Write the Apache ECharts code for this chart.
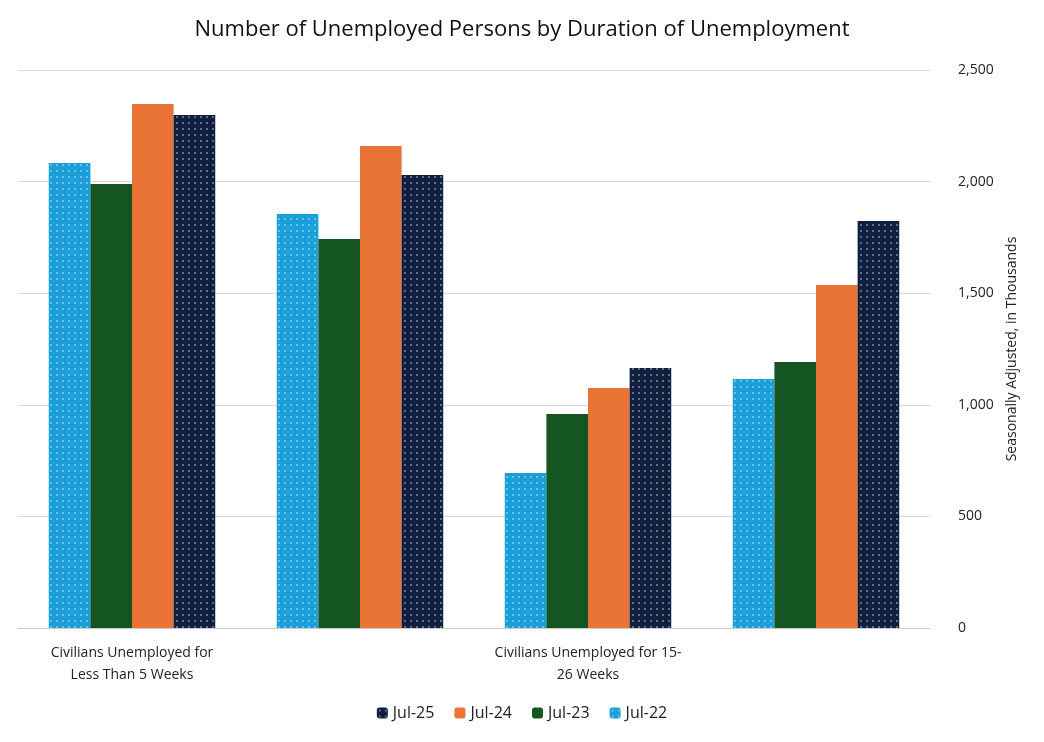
<!DOCTYPE html>
<html><head><meta charset="utf-8">
<script src="https://cdn.jsdelivr.net/npm/echarts@6/dist/echarts.min.js"></script>
<style>html,body{margin:0;padding:0;background:#fff}#c{width:1044px;height:742px}</style>
</head><body><div id="c"></div>
<script>
const categories = ["Civilians Unemployed for\nLess Than 5 Weeks","Civilians Unemployed for 5-14\nWeeks","Civilians Unemployed for 15-\n26 Weeks","Civilians Unemployed for 27\nWeeks and Over"];
const jul22 = [2083, 1855, 694, 1116];
const jul23 = [1989, 1743, 959, 1192];
const jul24 = [2348, 2159, 1075, 1537];
const jul25 = [2298, 2030, 1165, 1823];
const yTicks = {min:0, max:2500, interval:500};

const dots = (c)=>({symbol:'circle', symbolSize:0.25, color:c, dashArrayX:[6,0], dashArrayY:[6,0], rotation:0});
const chart = echarts.init(document.getElementById('c'));
chart.setOption({
  animation:false,
  textStyle:{fontFamily:'Open Sans'},
  title:{text:'Number of Unemployed Persons by Duration of Unemployment', left:'center', top:14,
    textStyle:{fontSize:22, fontWeight:'normal', color:'#111', fontFamily:'Open Sans'}},
  legend:{bottom:16, itemWidth:11, itemHeight:11, itemGap:20, textStyle:{fontSize:16,color:'#222'},
    data:['Jul-25','Jul-24','Jul-23','Jul-22']},
  grid:{left:18, right:114, top:70, bottom:114},
  xAxis:{type:'category', data:categories, axisTick:{show:false},
    axisLine:{lineStyle:{color:'#ccc'}}, axisLabel:{fontSize:14, color:'#222', lineHeight:22, margin:14}},
  yAxis:{type:'value', position:'right', min:yTicks.min, max:yTicks.max, interval:yTicks.interval,
    name:'Seasonally Adjusted, in Thousands', nameLocation:'middle', nameGap:58, nameRotate:90,
    nameTextStyle:{fontSize:14,color:'#222'},
    axisLabel:{fontSize:14,color:'#222', margin:28}, splitLine:{lineStyle:{color:'#d9d9d9'}}},
  series:[
    {name:'Jul-22', type:'bar', data:jul22, barGap:'0%', barCategoryGap:'27%', itemStyle:{color:'#1a9fd9', decal:dots('rgba(255,255,255,0.9)')}},
    {name:'Jul-23', type:'bar', data:jul23, itemStyle:{color:'#145522'}},
    {name:'Jul-24', type:'bar', data:jul24, itemStyle:{color:'#ea7435'}},
    {name:'Jul-25', type:'bar', data:jul25, itemStyle:{color:'#0e1f3f', decal:dots('rgba(255,255,255,0.9)')}}
  ]
});
</script></body></html>
